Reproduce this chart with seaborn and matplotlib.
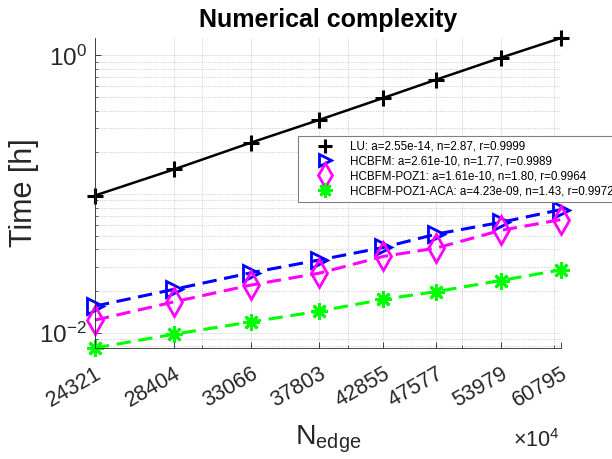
import numpy as np
import pandas as pd
import seaborn as sns
import matplotlib
matplotlib.use("Agg")
import matplotlib.pyplot as plt
from matplotlib.lines import Line2D
from matplotlib.ticker import FixedLocator, FixedFormatter, NullFormatter, LogLocator, LogFormatterSciNotation

# ---- data ----
n_edge = [24321, 28404, 33066, 37803, 42855, 47577, 53979, 60795]
t_lu = [0.0977, 0.1508, 0.2355, 0.3434, 0.4934, 0.670, 0.962, 1.337]
t_hcbfm = [0.01556, 0.02056, 0.0271, 0.0335, 0.0412, 0.0515, 0.0625, 0.0773]
t_poz1 = [0.01233, 0.0167, 0.0221, 0.0269, 0.0355, 0.0408, 0.0547, 0.0655]
t_aca = [0.00776, 0.00976, 0.01198, 0.01431, 0.0174, 0.0198, 0.0238, 0.0284]
legend_labels = [
    "LU: a=2.55e-14, n=2.87, r=0.9999",
    "HCBFM: a=2.61e-10, n=1.77, r=0.9989",
    "HCBFM-POZ1: a=1.61e-10, n=1.80, r=0.9964",
    "HCBFM-POZ1-ACA: a=4.23e-09, n=1.43, r=0.9972",
]
x_tick_labels = [str(v) for v in n_edge]
x_minor_ticks = [30000, 40000, 50000, 60000]
y_major_ticks = [1e-2, 1e0]

sns.set_theme(style="white")
plt.rcParams["font.family"] = ["Liberation Sans", "DejaVu Sans"]
plt.rcParams["mathtext.fontset"] = "custom"
plt.rcParams["mathtext.rm"] = "Liberation Sans"
plt.rcParams["mathtext.it"] = "Liberation Sans:italic"
plt.rcParams["mathtext.bf"] = "Liberation Sans:bold"

TXT = "#262626"
fig = plt.figure(figsize=(6.12, 4.59), dpi=100)
ax = fig.add_axes([95 / 612, 1 - 348 / 459, (561 - 95) / 612, (348 - 38) / 459])
ax.set_xscale("log")
ax.set_yscale("log")

dash = (0, (4.7, 2.5))
asterisk = (8, 2, 0)
series = [
    (t_lu, "black", "-", "+", 12, 2.2, 1.8),
    (t_hcbfm, "#0000ff", dash, ">", 11, 2.0, 2.2),
    (t_poz1, "#ff00ff", dash, "d", 14, 2.0, 2.2),
    (t_aca, "#00ff00", dash, asterisk, 12, 2.0, 2.2),
]

handles = []
for vals, col, ls, mk, ms, mew, lw in series:
    df = pd.DataFrame({"N": n_edge, "T": vals})
    sns.lineplot(data=df, x="N", y="T", ax=ax, color=col, linestyle=ls, lw=lw,
                 marker=mk, markersize=ms, markerfacecolor="none",
                 markeredgecolor=col, markeredgewidth=mew, clip_on=False,
                 legend=False, sort=False, estimator=None)
    handles.append(Line2D([], [], color=col, linestyle="none", marker=mk,
                          markersize=ms, markerfacecolor="none",
                          markeredgecolor=col, markeredgewidth=mew))

all_vals = t_lu + t_hcbfm + t_poz1 + t_aca
ax.set_xlim(n_edge[0], n_edge[-1])
ax.set_ylim(min(all_vals), max(all_vals))

# ticks
ax.xaxis.set_major_locator(FixedLocator(n_edge))
ax.xaxis.set_major_formatter(FixedFormatter(x_tick_labels))
ax.xaxis.set_minor_locator(FixedLocator(x_minor_ticks))
ax.xaxis.set_minor_formatter(NullFormatter())
ax.yaxis.set_major_locator(FixedLocator(y_major_ticks))
ax.yaxis.set_major_formatter(LogFormatterSciNotation())
ax.yaxis.set_minor_locator(LogLocator(base=10, subs=np.arange(1, 10), numticks=30))
ax.yaxis.set_minor_formatter(NullFormatter())

ax.tick_params(which="major", direction="in", length=4, width=0.6, color=TXT,
               labelcolor=TXT, top=False, right=False, left=True, bottom=True)
ax.tick_params(which="minor", direction="in", length=2.5, width=0.5, color=TXT,
               top=False, right=False, left=True, bottom=True)
ax.tick_params(axis="x", which="major", labelsize=15.5, pad=11)
ax.tick_params(axis="y", which="major", labelsize=17.5, pad=6)
for lab in ax.get_xticklabels():
    lab.set_rotation(30)
    lab.set_ha("right")
    lab.set_va("top")
    lab.set_rotation_mode("anchor")

ax.grid(True, which="major", color=TXT, alpha=0.13, lw=0.6, ls="-")
ax.grid(True, which="minor", color=TXT, alpha=0.3, lw=0.6, ls=":")
ax.set_axisbelow(True)

for s in ["top", "right"]:
    ax.spines[s].set_visible(False)
for s in ["left", "bottom"]:
    ax.spines[s].set_color(TXT)
    ax.spines[s].set_linewidth(0.6)

ax.set_title("Numerical complexity", fontsize=18, fontweight="bold", color="black", pad=8)
ax.set_ylabel("Time [h]", fontsize=22, color=TXT, labelpad=0)
ax.set_xlabel(r"N$_{\mathregular{edge}}$", fontsize=20.5, color=TXT, labelpad=9)
fig.text(560 / 612, 1 - 447 / 459, r"$\times\mathregular{10^{4}}$", ha="right",
         va="baseline", fontsize=15.5, color=TXT)

leg = fig.legend(handles, legend_labels, loc="upper left",
                 bbox_to_anchor=(298 / 612, 1 - 136 / 459), bbox_transform=fig.transFigure,
                 borderaxespad=0, fontsize=8.4, frameon=True, fancybox=False,
                 edgecolor="#808080", framealpha=1, facecolor="white",
                 borderpad=0.4, handlelength=3.9, handletextpad=0.2,
                 labelspacing=0.25, markerscale=0.85)
leg.get_frame().set_linewidth(0.8)
for t in leg.get_texts():
    t.set_color("black")

fig.savefig("out.png", dpi=100)
